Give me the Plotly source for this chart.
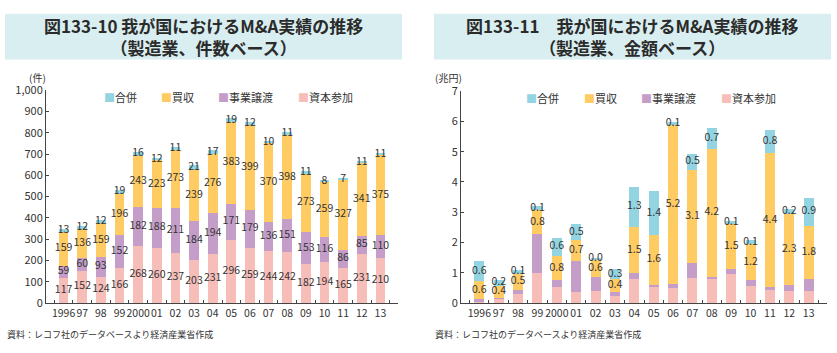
import numpy as np
import plotly.graph_objects as go

W, H = 837, 353

years = ["1996", "97", "98", "99", "2000", "01", "02", "03", "04", "05",
         "06", "07", "08", "09", "10", "11", "12", "13"]

# Left chart: number of deals (件)
cnt_capital = [117, 152, 124, 166, 268, 260, 237, 203, 231, 296, 259, 244, 242, 182, 194, 165, 231, 210]
cnt_transfer = [59, 60, 93, 152, 182, 188, 211, 184, 194, 171, 179, 136, 151, 153, 116, 86, 85, 110]
cnt_acquire = [159, 136, 159, 196, 243, 223, 273, 239, 276, 383, 399, 370, 398, 273, 259, 327, 341, 375]
cnt_merger = [13, 12, 12, 19, 16, 12, 11, 21, 17, 19, 12, 10, 11, 11, 8, 7, 11, 11]

# Right chart: value (兆円)
amt_capital = [0.06, 0.15, 0.30, 0.98, 0.53, 0.37, 0.40, 0.24, 0.79, 0.54, 0.50, 0.83, 0.79, 0.95, 0.57, 0.44, 0.40, 0.40]
amt_transfer = [0.06, 0.02, 0.13, 1.30, 0.23, 1.03, 0.45, 0.13, 0.19, 0.07, 0.14, 0.49, 0.08, 0.16, 0.18, 0.08, 0.20, 0.39]
amt_acquire = [0.62, 0.40, 0.54, 0.78, 0.80, 0.68, 0.60, 0.42, 1.54, 1.64, 5.24, 3.08, 4.23, 1.51, 1.19, 4.43, 2.34, 1.76]
amt_merger = [0.64, 0.20, 0.13, 0.14, 0.59, 0.54, 0.03, 0.32, 1.32, 1.44, 0.10, 0.53, 0.67, 0.10, 0.14, 0.78, 0.18, 0.93]

series_names = ["資本参加", "事業譲渡", "買収", "合併"]
colors = ["#f7bdb9", "#c49ec9", "#ffcb63", "#92d4e2"]

FONT = "Noto Sans CJK JP"
TXT = "#333333"

fig = go.Figure()

left_series = [cnt_capital, cnt_transfer, cnt_acquire, cnt_merger]
right_series = [amt_capital, amt_transfer, amt_acquire, amt_merger]

# bars
for i, (name, col) in enumerate(zip(series_names, colors)):
    fig.add_trace(go.Bar(x=years, y=left_series[i], name=name, marker=dict(color=col, line=dict(width=0)),
                         xaxis="x", yaxis="y", width=0.52, showlegend=False))
for i, (name, col) in enumerate(zip(series_names, colors)):
    fig.add_trace(go.Bar(x=years, y=right_series[i], name=name, marker=dict(color=col, line=dict(width=0)),
                         xaxis="x2", yaxis="y2", width=0.52, showlegend=False))

# value labels (centered in each segment)
cum = np.zeros(len(years))
for vals in left_series:
    v = np.array(vals, dtype=float)
    mid = cum + v / 2
    fig.add_trace(go.Scatter(x=years, y=mid, mode="text", text=[str(int(a)) for a in v],
                             textfont=dict(family=FONT, size=10.5, color=TXT), showlegend=False,
                             hoverinfo="skip", xaxis="x", yaxis="y", cliponaxis=False))
    cum = cum + v

cum = np.zeros(len(years))
for k, vals in enumerate(right_series):
    v = np.array(vals, dtype=float)
    mid = cum + v / 2
    if k >= 2:
        fig.add_trace(go.Scatter(x=years, y=mid, mode="text", text=[f"{a:.1f}" for a in v],
                                 textfont=dict(family=FONT, size=10.5, color=TXT), showlegend=False,
                                 hoverinfo="skip", xaxis="x2", yaxis="y2", cliponaxis=False))
    cum = cum + v

def px_x(p):
    return p / W

def px_y(p):
    return 1 - p / H

axis_common = dict(showgrid=False, zeroline=False, showline=True, linecolor="#444444", linewidth=1)
xfont = dict(family=FONT, size=10.5, color=TXT)
yfont = dict(family=FONT, size=11, color=TXT)

fig.update_layout(
    width=W, height=H,
    margin=dict(l=0, r=0, t=0, b=0),
    paper_bgcolor="white", plot_bgcolor="white",
    barmode="stack",
    font=dict(family=FONT, color=TXT),
    xaxis=dict(domain=[px_x(46), px_x(398)], anchor="y", type="category", tickangle=0, dtick=1,
               tickfont=xfont, ticks="inside", ticklen=3, tickcolor="#444444", tickson="boundaries",
               **axis_common),
    yaxis=dict(domain=[px_y(308), px_y(85)], anchor="x", range=[0, 1000], tickvals=list(range(0, 1001, 100)),
               tickfont=yfont, tickformat=",", ticks="inside", ticklen=3, tickcolor="#444444", **axis_common),
    xaxis2=dict(domain=[px_x(461), px_x(827)], anchor="y2", type="category", tickangle=0, dtick=1,
                tickfont=xfont, ticks="inside", ticklen=3, tickcolor="#444444", tickson="boundaries",
                **axis_common),
    yaxis2=dict(domain=[px_y(308), px_y(86)], anchor="x2", range=[0, 7], tickvals=list(range(0, 8)),
                tickfont=yfont, ticks="inside", ticklen=3, tickcolor="#444444", **axis_common),
    showlegend=False,
)

# title bands
band = "#d9eef0"
fig.add_shape(type="rect", xref="paper", yref="paper", x0=px_x(5), x1=px_x(402), y0=px_y(53), y1=px_y(5),
              fillcolor=band, line=dict(width=0), layer="below")
fig.add_shape(type="rect", xref="paper", yref="paper", x0=px_x(434), x1=px_x(831), y0=px_y(53), y1=px_y(5),
              fillcolor=band, line=dict(width=0), layer="below")

annos = [
    dict(x=px_x(203), y=px_y(29), text="<b>図133-10 我が国におけるM&A実績の推移<br>（製造業、件数ベース）</b>",
         font=dict(family=FONT, size=17, color="#2b2b2b"), xanchor="center", yanchor="middle"),
    dict(x=px_x(632), y=px_y(29), text="<b>図133-11　我が国におけるM&A実績の推移<br>（製造業、金額ベース）</b>",
         font=dict(family=FONT, size=17, color="#2b2b2b"), xanchor="center", yanchor="middle"),
    dict(x=px_x(27), y=px_y(72), text="(件)", font=dict(family=FONT, size=10, color=TXT),
         xanchor="left", yanchor="middle"),
    dict(x=px_x(433), y=px_y(72), text="(兆円)", font=dict(family=FONT, size=10, color=TXT),
         xanchor="left", yanchor="middle"),
    dict(x=px_x(5), y=px_y(341), text="資料：レコフ社のデータベースより経済産業省作成",
         font=dict(family=FONT, size=9, color=TXT), xanchor="left", yanchor="middle"),
    dict(x=px_x(433), y=px_y(341), text="資料：レコフ社のデータベースより経済産業省作成",
         font=dict(family=FONT, size=9, color=TXT), xanchor="left", yanchor="middle"),
]

# legend entries (colored square + series name), order: 合併, 買収, 事業譲渡, 資本参加
legend_left_x = [102, 159, 216, 296]
legend_right_x = [524, 582, 639, 719]
for j, idx in enumerate([3, 2, 1, 0]):
    for xs, yy in ((legend_left_x, 92), (legend_right_x, 93)):
        annos.append(dict(x=px_x(xs[j]), y=px_y(yy),
                          text=f'<span style="color:{colors[idx]}">■</span>{series_names[idx]}',
                          font=dict(family=FONT, size=11, color=TXT), xanchor="left", yanchor="middle"))

for a in annos:
    fig.add_annotation(xref="paper", yref="paper", showarrow=False, align="center", **a)

fig.write_html("out.html")
